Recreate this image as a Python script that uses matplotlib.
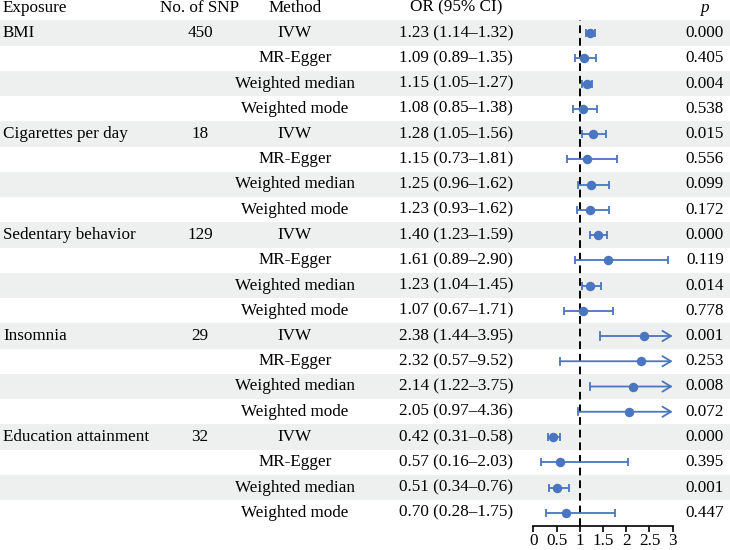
import numpy as np
import matplotlib
matplotlib.use('Agg')
import matplotlib.pyplot as plt

plt.rcParams['font.family'] = ['Liberation Serif', 'DejaVu Serif']
plt.rcParams['font.size'] = 12.3

# Dados
exposures = ['BMI', 'Cigarettes per day', 'Sedentary behavior', 'Insomnia', 'Education attainment']
n_snp = ['450', '18', '129', '29', '32']
methods = ['IVW', 'MR-Egger', 'Weighted median', 'Weighted mode']

or_vals = [1.23, 1.09, 1.15, 1.08,
           1.28, 1.15, 1.25, 1.23,
           1.40, 1.61, 1.23, 1.07,
           2.38, 2.32, 2.14, 2.05,
           0.42, 0.57, 0.51, 0.70]
ci_low = [1.14, 0.89, 1.05, 0.85,
          1.05, 0.73, 0.96, 0.93,
          1.23, 0.89, 1.04, 0.67,
          1.44, 0.57, 1.22, 0.97,
          0.31, 0.16, 0.34, 0.28]
ci_high = [1.32, 1.35, 1.27, 1.38,
           1.56, 1.81, 1.62, 1.62,
           1.59, 2.90, 1.45, 1.71,
           3.95, 9.52, 3.75, 4.36,
           0.58, 2.03, 0.76, 1.75]
p_vals = ['0.000', '0.405', '0.004', '0.538',
          '0.015', '0.556', '0.099', '0.172',
          '0.000', '0.119', '0.014', '0.778',
          '0.001', '0.253', '0.008', '0.072',
          '0.000', '0.395', '0.001', '0.447']
xticks = [0, 0.5, 1, 1.5, 2, 2.5, 3]
xticklabels = ['0', '0.5', '1', '1.5', '2', '2.5', '3']

# Layout em pixels
W, H = 730, 550
row0 = 33.0      # centro da primeira linha
row_h = 25.25    # altura de cada linha
ax_x0, ax_x1 = 533.3, 672.7
axis_y = 525.7

def row_of(px):
    return (px - row0) / row_h

blue = '#4a75bf'
band = '#eef0ef'
n = len(or_vals)

fig = plt.figure(figsize=(W / 100, H / 100), dpi=100)

# eixo de fundo (tabela)
tab = fig.add_axes([0, 0, 1, 1])
tab.set_xlim(0, W)
tab.set_ylim(row_of(H), row_of(0))
tab.axis('off')

for i in range(0, n, 2):
    tab.axhspan(i - 0.5, i + 0.5, color=band, lw=0, zorder=0)

hdr = -1
tab.text(3, hdr, 'Exposure', ha='left', va='center')
tab.text(200, hdr, 'No. of SNP', ha='center', va='center')
tab.text(295, hdr, 'Method', ha='center', va='center')
tab.text(456, hdr, 'OR (95% CI)', ha='center', va='center')
tab.text(705, hdr, 'p', ha='center', va='center', style='italic')

for g, (e, s) in enumerate(zip(exposures, n_snp)):
    r = g * len(methods)
    tab.text(3, r, e, ha='left', va='center')
    tab.text(200, r, s, ha='center', va='center')

for i in range(n):
    tab.text(295, i, methods[i % len(methods)], ha='center', va='center')
    tab.text(456, i, f'{or_vals[i]:.2f} ({ci_low[i]:.2f}\u2013{ci_high[i]:.2f})',
             ha='center', va='center')
    tab.text(724, i, p_vals[i], ha='right', va='center')

# eixo do forest plot
top_row = -0.5
ax = fig.add_axes([ax_x0 / W, (H - axis_y) / H, (ax_x1 - ax_x0) / W,
                   (axis_y - (row0 + top_row * row_h)) / H])
ax.patch.set_alpha(0)
ax.set_xlim(0, 3)
ax.set_ylim(row_of(axis_y), top_row)
for sp in ['top', 'left', 'right']:
    ax.spines[sp].set_visible(False)
ax.spines['bottom'].set_linewidth(1.2)
ax.set_yticks([])
ax.set_xticks(xticks)
ax.set_xticklabels(xticklabels)
ax.tick_params(axis='x', length=4.5, width=1.2, pad=0.5)

ax.axvline(1, color='black', lw=1.4, ls=(0, (4, 2.5)), zorder=1)

y = np.arange(n)
for i in range(n):
    lo, hi, m = ci_low[i], ci_high[i], or_vals[i]
    if hi > 3:
        ax.annotate('', xy=(3, i), xytext=(lo, i),
                    arrowprops=dict(arrowstyle='->,head_length=0.5,head_width=0.3',
                                    color=blue, lw=1.3, shrinkA=0, shrinkB=0),
                    annotation_clip=False, zorder=3)
        ax.plot([lo, lo], [i - 0.14, i + 0.14], color=blue, lw=1.3, zorder=3)
    else:
        ax.errorbar(m, i, xerr=[[m - lo], [hi - m]], fmt='none', ecolor=blue,
                    elinewidth=1.3, capsize=3, capthick=1.3, zorder=3)
ax.plot(or_vals, y, 'o', color=blue, ms=5.8, zorder=4)

plt.savefig('out.png', dpi=100)
